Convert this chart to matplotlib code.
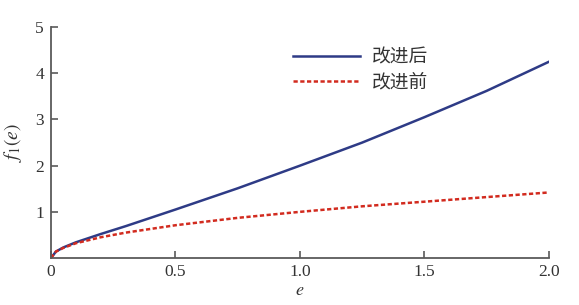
import matplotlib
matplotlib.use("Agg")
import matplotlib.pyplot as plt

# values
e_after = [0, 0.02, 0.05, 0.1, 0.2, 0.3, 0.5, 0.75, 1.0, 1.25, 1.5, 1.75, 2.0]
f_after = [0, 0.14, 0.23, 0.34, 0.52, 0.69, 1.05, 1.51, 2.0, 2.5, 3.05, 3.62, 4.25]
e_before = [0, 0.02, 0.05, 0.1, 0.2, 0.3, 0.5, 0.75, 1.0, 1.25, 1.5, 1.75, 2.0]
f_before = [0, 0.14, 0.22, 0.32, 0.45, 0.55, 0.71, 0.87, 1.0, 1.12, 1.22, 1.32, 1.42]
x_ticks = [0, 0.5, 1.0, 1.5, 2.0]
x_ticklabels = ["0", "0.5", "1.0", "1.5", "2.0"]
y_ticks = [1, 2, 3, 4, 5]

BLUE = "#2e3b86"
RED = "#d22b1f"
AXIS = "#5a5a5a"
TEXT = "#333333"
CJK = ["Noto Sans CJK SC", "DejaVu Sans"]

plt.rcParams["mathtext.fontset"] = "stix"

fig = plt.figure(figsize=(5.79, 3.05), dpi=100)
ax = fig.add_axes([0.088, 0.154, 0.860, 0.757])

ax.plot(e_after, f_after, color=BLUE, lw=1.8, label="改进后")
ax.plot(e_before, f_before, color=RED, lw=1.8, ls=(0, (1.7, 1.0)), label="改进前")

ax.set_xlim(0, 2.0)
ax.set_ylim(0, 5)
ax.set_xticks(x_ticks)
ax.set_xticklabels(x_ticklabels)
ax.set_yticks(y_ticks)
for lab in ax.get_xticklabels() + ax.get_yticklabels():
    lab.set_family("Liberation Serif")
    lab.set_fontsize(12.5)
    lab.set_color(TEXT)

ax.spines[["top", "right"]].set_visible(False)
ax.spines[["left", "bottom"]].set_color(AXIS)
ax.spines[["left", "bottom"]].set_linewidth(1.3)
ax.tick_params(direction="in", length=5, width=1.2, color=AXIS)
ax.tick_params(axis="x", pad=4)
ax.tick_params(axis="y", pad=5)

ax.set_xlabel("$e$", fontsize=13, labelpad=1, color=TEXT)
ax.set_ylabel("$f_1(e)$", fontsize=14, labelpad=8, color=TEXT)

leg = ax.legend(loc="upper left", bbox_to_anchor=(0.452, 0.99), frameon=False,
                handlelength=3.6, handletextpad=0.6, labelspacing=0.22,
                prop={"family": CJK, "size": 13.5})
for t in leg.get_texts():
    t.set_color(TEXT)

fig.savefig("out.png", dpi=100)
